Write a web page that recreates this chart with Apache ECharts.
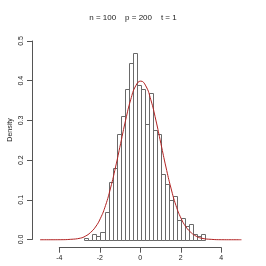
<!DOCTYPE html>
<html>
<head>
<meta charset="utf-8">
<script src="https://cdn.jsdelivr.net/npm/echarts@6/dist/echarts.min.js"></script>
<style>html,body{margin:0;padding:0;background:#fff}#c{width:266px;height:266px}</style>
</head>
<body>
<div id="c"></div>
<script>
const titleText = 'n = 100    p = 200    t = 1';
const yAxisName = 'Density';
const binEdges = [-2.8,-2.6,-2.4,-2.2,-2.0,-1.8,-1.6,-1.4,-1.2,-1.0,-0.8,-0.6,-0.4,-0.2,0,0.2,0.4,0.6,0.8,1.0,1.2,1.4,1.6,1.8,2.0,2.2,2.4,2.6,2.8,3.0,3.2];
const densities = [0.005,0,0.015,0.01,0.02,0.07,0.145,0.18,0.265,0.31,0.38,0.445,0.47,0.39,0.38,0.29,0.37,0.275,0.265,0.165,0.14,0.10,0.11,0.05,0.055,0.035,0.04,0.015,0.01,0.015];
const curveX = [-5,-4.5,-4,-3.5,-3,-2.75,-2.5,-2.25,-2,-1.75,-1.5,-1.25,-1,-0.75,-0.5,-0.25,0,0.25,0.5,0.75,1,1.25,1.5,1.75,2,2.25,2.5,2.75,3,3.5,4,4.5,5];
const curveY = [0,0,0.0001,0.001,0.004,0.009,0.018,0.032,0.054,0.086,0.130,0.183,0.242,0.301,0.352,0.387,0.399,0.387,0.352,0.301,0.242,0.183,0.130,0.086,0.054,0.032,0.018,0.009,0.004,0.001,0.0001,0,0];
const xTicks = [-4,-2,0,2,4];
const yTicks = [0,0.1,0.2,0.3,0.4,0.5];

const bars = densities.map((d,i)=>[binEdges[i], binEdges[i+1], d]);
const curve = curveX.map((x,i)=>[x, curveY[i]]);

const chart = echarts.init(document.getElementById('c'), null, {renderer:'canvas'});
const font = 'Liberation Sans, Arial, sans-serif';
chart.setOption({
  animation:false,
  backgroundColor:'#fff',
  title:{text:titleText,left:'center',top:9,textStyle:{fontFamily:font,fontSize:8,fontWeight:'normal',color:'#222'}},
  graphic:[{type:'text',rotation:Math.PI/2,style:{text:yAxisName,fontFamily:font,fontSize:7,fill:'#222',align:'center',verticalAlign:'middle'},x:10,y:130}],
  grid:[
    {left:32,right:16.5,top:33,bottom:18.3},
    {left:59.3,right:44.7,top:33,bottom:18.3},
    {left:32,right:16.5,top:41,bottom:26.5}
  ],
  xAxis:[
    {gridIndex:0,type:'value',min:-5.4,max:5.4,show:false},
    {gridIndex:1,type:'value',min:-4,max:4,interval:2,
      axisLine:{show:true,lineStyle:{color:'#555',width:1}},
      axisTick:{show:true,length:5,lineStyle:{color:'#555'}},
      axisLabel:{margin:7,fontFamily:font,fontSize:7,color:'#222',formatter:v=>xTicks.includes(v)?String(v):''},
      splitLine:{show:false}},
    {gridIndex:2,type:'value',min:0,max:1,show:false}
  ],
  yAxis:[
    {gridIndex:0,type:'value',min:-0.02,max:0.52,show:false},
    {gridIndex:1,type:'value',min:0,max:1,show:false},
    {gridIndex:2,type:'value',min:0,max:0.5,interval:0.1,
      axisLine:{show:true,lineStyle:{color:'#555',width:1}},
      axisTick:{show:true,length:5,lineStyle:{color:'#555'}},
      axisLabel:{margin:7,rotate:90,fontFamily:font,fontSize:7,color:'#222',formatter:v=>v.toFixed(1)},
      splitLine:{show:false}}
  ],
  series:[
    {type:'custom',xAxisIndex:0,yAxisIndex:0,data:bars,
      renderItem:function(params,api){
        const p1=api.coord([api.value(0),api.value(2)]);
        const p2=api.coord([api.value(1),0]);
        return {type:'rect',shape:{x:Math.round(p1[0])+0.5,y:Math.round(p1[1])+0.5,width:Math.round(p2[0])-Math.round(p1[0]),height:Math.round(p2[1])-Math.round(p1[1])},
          style:{fill:'rgba(0,0,0,0)',stroke:'#6a6a6a',lineWidth:1}};
      }},
    {type:'line',xAxisIndex:0,yAxisIndex:0,data:curve,smooth:true,symbol:'none',
      lineStyle:{color:'#b22222',width:1}}
  ]
});
</script>
</body>
</html>
